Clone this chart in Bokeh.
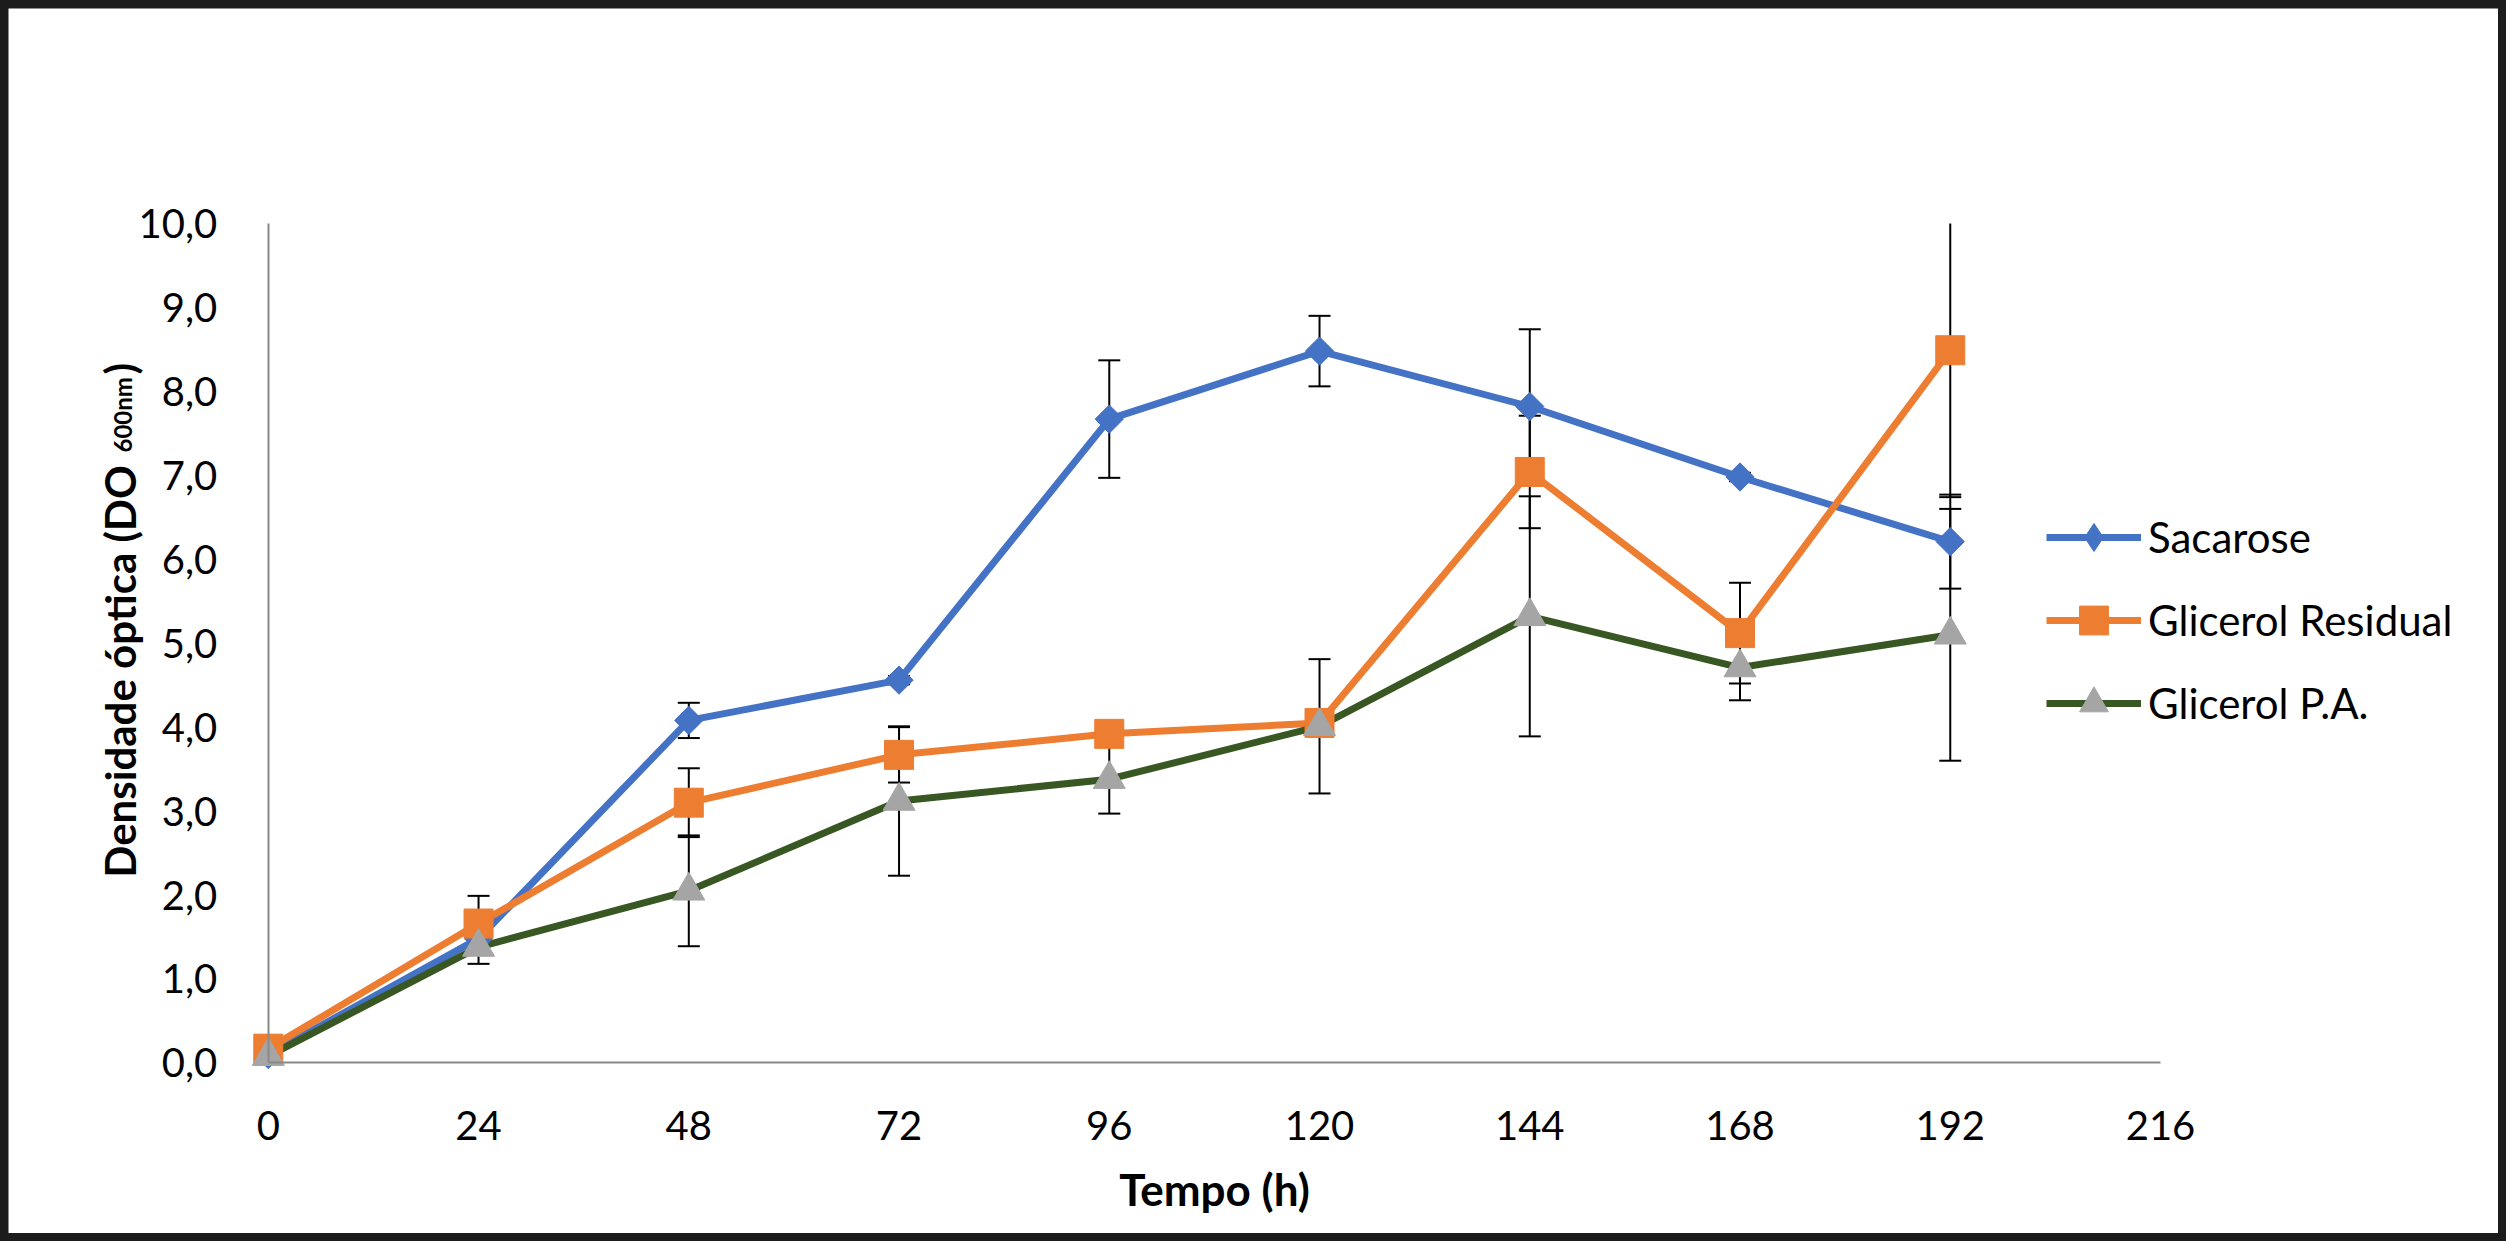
import math
from bokeh.plotting import figure
from bokeh.models import Range1d, FixedTicker, Label, Legend, LegendItem
from bokeh.embed import file_html
from bokeh.resources import INLINE

# ---------------- data ----------------
hours = [0, 24, 48, 72, 96, 120, 144, 168, 192]

sacarose = [0.10, 1.48, 4.08, 4.56, 7.67, 8.48, 7.82, 6.98, 6.21]
sacarose_err = [0.02, 0.05, 0.21, 0.05, 0.70, 0.42, 0.92, 0.05, 0.56]

glicerol_residual = [0.17, 1.66, 3.10, 3.67, 3.92, 4.05, 7.04, 5.12, 8.49]
glicerol_residual_err = [0.02, 0.33, 0.41, 0.33, 0.10, 0.10, 0.67, 0.60, 1.75]

glicerol_pa = [0.08, 1.38, 2.05, 3.12, 3.38, 4.01, 5.32, 4.71, 5.10]
glicerol_pa_err = [0.02, 0.20, 0.66, 0.89, 0.41, 0.80, 1.43, 0.39, 1.50]

series_names = ["Sacarose", "Glicerol Residual", "Glicerol P.A."]

x_ticks = [0, 24, 48, 72, 96, 120, 144, 168, 192, 216]
y_ticks = [0, 1, 2, 3, 4, 5, 6, 7, 8, 9, 10]
y_tick_labels = ["0,0", "1,0", "2,0", "3,0", "4,0", "5,0", "6,0", "7,0", "8,0", "9,0", "10,0"]

x_title = "Tempo (h)"
y_title_main = "Densidade óptica (DO"
y_title_sub = "600nm"
y_title_end = ")"

# ---------------- geometry (pixels inside the figure) ----------------
W, H = 2490, 1225
X0_PX, X1_PX = 259.8, 2152.0      # where x = 0 and x = 216 fall
Y0_PX, Y1_PX = 1054.4, 215.0      # where y = 0 and y = 10 fall (from top)
x_min, x_max = x_ticks[0], x_ticks[-1]
y_min, y_max = y_ticks[0], y_ticks[-1]
sx = (X1_PX - X0_PX) / (x_max - x_min)
sy = (Y0_PX - Y1_PX) / (y_max - y_min)
x_range = Range1d(x_min - X0_PX / sx, x_max + (W - X1_PX) / sx)
y_range = Range1d(y_min - (H - Y0_PX) / sy, y_max + Y1_PX / sy)

FONT = "Lato"
p = figure(width=W, height=H, output_backend="svg", toolbar_location=None,
           x_range=x_range, y_range=y_range,
           min_border_left=0, min_border_right=0,
           min_border_top=0, min_border_bottom=0)
p.outline_line_color = None
p.grid.visible = False
p.background_fill_color = "white"
p.border_fill_color = "white"

# x axis
xa = p.xaxis[0]
xa.ticker = FixedTicker(ticks=x_ticks)
xa.bounds = (x_min, x_max)
xa.fixed_location = y_min
xa.axis_line_color = "#898989"
xa.axis_line_width = 2
xa.major_tick_line_color = None
xa.minor_tick_line_color = None
xa.major_label_text_font = FONT
xa.major_label_text_font_size = "40px"
xa.major_label_text_color = "#000000"
xa.major_label_standoff = 42
xa.axis_label = x_title
xa.axis_label_text_font = FONT
xa.axis_label_text_font_style = "bold"
xa.axis_label_text_font_size = "44px"
xa.axis_label_text_color = "#000000"
xa.axis_label_standoff = 20

# y axis
ya = p.yaxis[0]
ya.ticker = FixedTicker(ticks=y_ticks)
ya.major_label_overrides = {t: lab for t, lab in zip(y_ticks, y_tick_labels)}
ya.bounds = (y_min, y_max)
ya.fixed_location = x_min
ya.axis_line_color = "#898989"
ya.axis_line_width = 2
ya.major_tick_line_color = None
ya.minor_tick_line_color = None
ya.major_label_text_font = FONT
ya.major_label_text_font_size = "40px"
ya.major_label_text_color = "#000000"
ya.major_label_standoff = 45

# y axis title (with subscript) as labels, frame = whole figure
common = dict(x_units="screen", y_units="screen", angle=math.pi / 2,
              text_font=FONT, text_font_style="bold", text_color="#000000",
              text_align="left", text_baseline="alphabetic")
p.add_layout(Label(x=111, y=356, text=y_title_main, text_font_size="42px", **common))
p.add_layout(Label(x=114, y=781, text=y_title_sub, text_font_size="24px", **common))
p.add_layout(Label(x=111, y=859, text=y_title_end, text_font_size="42px", **common))

# ---------------- series ----------------
styles = [
    dict(line="#4472C4", fill="#4472C4", marker="square", size=20, angle=math.pi / 4,
         legend_marker="diamond", legend_h=70, legend_y=661),
    dict(line="#ED7D31", fill="#ED7D31", marker="square", size=29, angle=0.0,
         legend_marker=None, legend_h=72, legend_y=577),
    dict(line="#385723", fill="#A5A5A5", marker="triangle", size=32, angle=0.0,
         legend_marker=None, legend_h=72, legend_y=494),
]
values = [sacarose, glicerol_residual, glicerol_pa]
errors = [sacarose_err, glicerol_residual_err, glicerol_pa_err]

# error bars first (behind everything), cut at the top of the value axis
for vals, errs in zip(values, errors):
    lo = [v - e for v, e in zip(vals, errs)]
    hi = [v + e for v, e in zip(vals, errs)]
    hi_cut = [min(h, y_max) for h in hi]
    p.segment(x0=hours, y0=lo, x1=hours, y1=hi_cut, line_color="black", line_width=2)
    p.scatter(x=hours, y=lo, marker="dash", size=22, line_color="black", line_width=2)
    cap_x = [h for h, v in zip(hours, hi) if v <= y_max]
    cap_y = [v for v in hi if v <= y_max]
    p.scatter(x=cap_x, y=cap_y, marker="dash", size=22, line_color="black", line_width=2)

line_rs = []
for name, vals, st in zip(series_names, values, styles):
    lr = p.line(x=hours, y=vals, line_color=st["line"], line_width=7, line_join="round")
    line_rs.append((name, lr, vals, st))

for name, lr, vals, st in line_rs:
    legend_rs = [lr]
    if st["legend_marker"] is not None:
        # tiny copy (hidden under the real markers) used only for the legend symbol
        legend_rs.append(p.scatter(x=hours, y=vals, marker=st["legend_marker"], size=1,
                                   fill_color=st["fill"], line_color=st["fill"]))
    sr = p.scatter(x=hours, y=vals, marker=st["marker"], size=st["size"], angle=st["angle"],
                   fill_color=st["fill"], line_color=st["fill"], line_width=1)
    if st["legend_marker"] is None:
        legend_rs.append(sr)
    leg = Legend(items=[LegendItem(label=name, renderers=legend_rs)],
                 location=(2038, st["legend_y"]), orientation="vertical",
                 glyph_width=95, glyph_height=st["legend_h"], spacing=0, label_standoff=7,
                 padding=0, margin=0, border_line_color=None,
                 background_fill_alpha=0.0,
                 label_text_font=FONT, label_text_font_size="42px",
                 label_text_color="#000000")
    p.add_layout(leg, "center")

page_style = ("<style>html {background-color: #1c1c1c !important;} "
              "body {background-color: #1c1c1c !important; padding: 8px !important; "
              "box-sizing: border-box !important; overflow: hidden !important;}</style></head>")
open("out.html", "w").write(
    file_html(p, INLINE, title="Densidade óptica").replace("</head>", page_style, 1))
